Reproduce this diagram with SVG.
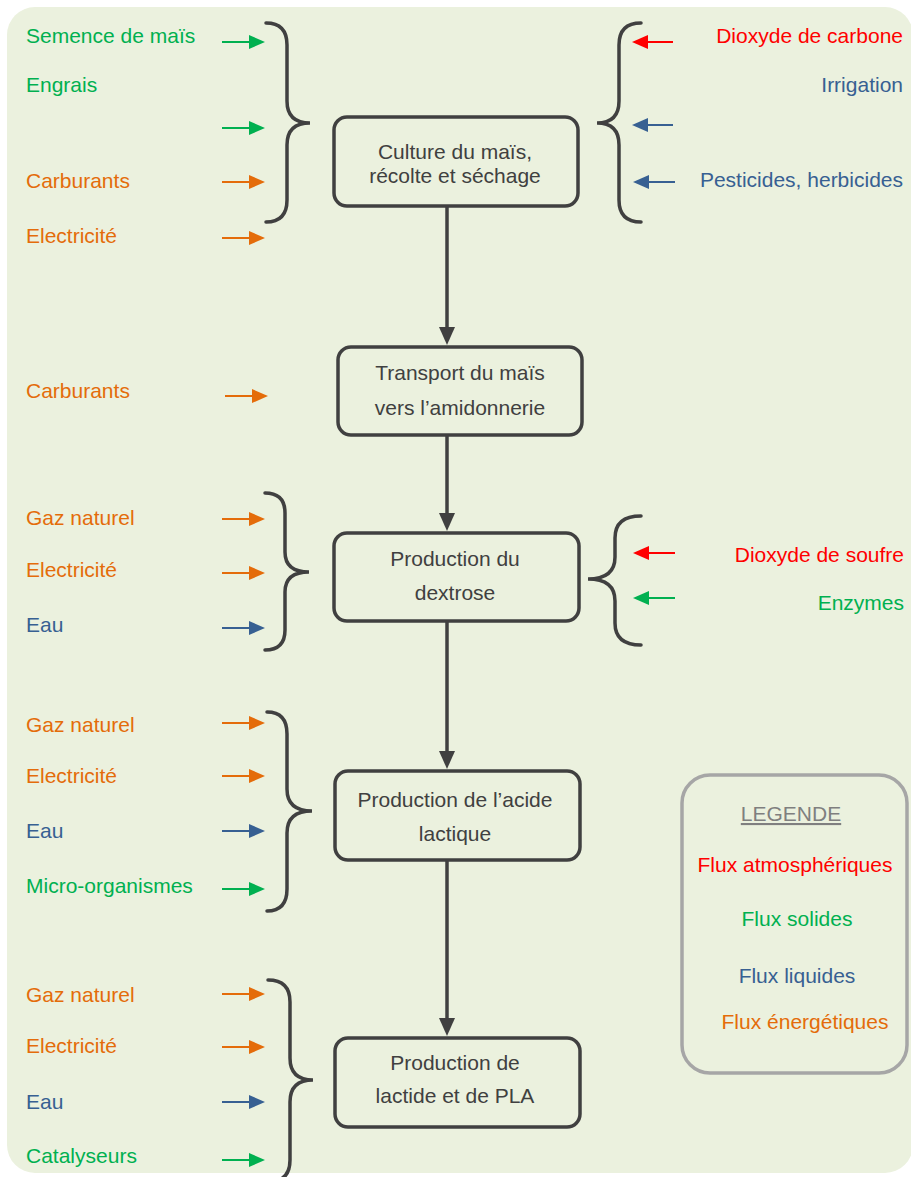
<svg xmlns="http://www.w3.org/2000/svg" width="911" height="1177" viewBox="0 0 911 1177">
<style>
text{font-family:"Liberation Sans",Arial,sans-serif;font-size:21px}
.g{fill:#00B050}.o{fill:#E46C0A}.b{fill:#376092}.r{fill:#FF0000}
.bt{fill:#404040;text-anchor:middle}
.e{text-anchor:end}
.box{fill:none;stroke:#404040;stroke-width:3.5}
.brace{fill:none;stroke:#404040;stroke-width:3.5;stroke-linecap:round}
.ag{stroke:#00B050;stroke-width:2;marker-end:url(#mg)}
.ao{stroke:#E46C0A;stroke-width:2;marker-end:url(#mo)}
.ab{stroke:#376092;stroke-width:2;marker-end:url(#mb)}
.ar{stroke:#FF0000;stroke-width:2;marker-end:url(#mr)}
.ak{stroke:#404040;stroke-width:3.5;marker-end:url(#mk)}
</style>
<defs>
<marker id="mg" viewBox="0 0 16 14" refX="8" refY="7" markerWidth="16" markerHeight="14" orient="auto" markerUnits="userSpaceOnUse"><path d="M0,0L16,7L0,14z" fill="#00B050"/></marker>
<marker id="mo" viewBox="0 0 16 14" refX="8" refY="7" markerWidth="16" markerHeight="14" orient="auto" markerUnits="userSpaceOnUse"><path d="M0,0L16,7L0,14z" fill="#E46C0A"/></marker>
<marker id="mb" viewBox="0 0 16 14" refX="8" refY="7" markerWidth="16" markerHeight="14" orient="auto" markerUnits="userSpaceOnUse"><path d="M0,0L16,7L0,14z" fill="#376092"/></marker>
<marker id="mr" viewBox="0 0 16 14" refX="8" refY="7" markerWidth="16" markerHeight="14" orient="auto" markerUnits="userSpaceOnUse"><path d="M0,0L16,7L0,14z" fill="#FF0000"/></marker>
<marker id="mk" viewBox="0 0 18 16" refX="9" refY="8" markerWidth="18" markerHeight="16" orient="auto" markerUnits="userSpaceOnUse"><path d="M0,0L18,8L0,16z" fill="#404040"/></marker>
</defs>
<rect x="7" y="7" width="906" height="1166" rx="28" fill="#EBF1DE"/>

<g id="connectors">
<line class="ak" x1="447" y1="206" x2="447" y2="336"/>
<line class="ak" x1="447" y1="436" x2="447" y2="522"/>
<line class="ak" x1="447" y1="621" x2="447" y2="760"/>
<line class="ak" x1="447" y1="860" x2="447" y2="1027"/>
</g>

<g id="culture">
<rect class="box" x="334" y="117" width="244" height="89" rx="13"/>
<text class="bt" x="455" y="159">Culture du maïs,</text>
<text class="bt" x="455" y="183">récolte et séchage</text>
</g>
<g id="transport">
<rect class="box" x="338" y="347" width="244" height="88" rx="13"/>
<text class="bt" x="460" y="380">Transport du maïs</text>
<text class="bt" x="460" y="415">vers l’amidonnerie</text>
</g>
<g id="dextrose">
<rect class="box" x="334" y="533" width="245" height="88" rx="13"/>
<text class="bt" x="455" y="566">Production du</text>
<text class="bt" x="455" y="600">dextrose</text>
</g>
<g id="acide">
<rect class="box" x="335" y="771" width="245" height="89" rx="13"/>
<text class="bt" x="455" y="807">Production de l’acide</text>
<text class="bt" x="455" y="841">lactique</text>
</g>
<g id="pla">
<rect class="box" x="335" y="1038" width="245" height="89" rx="13"/>
<text class="bt" x="455" y="1070">Production de</text>
<text class="bt" x="455" y="1103">lactide et de PLA</text>
</g>

<g id="inputs-culture">
<path class="brace" d="M266,23Q287,23 287,45L287,101Q287,123 310,123Q287,123 287,145L287,200Q287,222 266,222"/>
<text class="g" x="26" y="43">Semence de maïs</text>
<line class="ag" x1="222" y1="42" x2="257" y2="42"/>
<text class="g" x="26" y="92">Engrais</text>
<line class="ag" x1="222" y1="128" x2="257" y2="128"/>
<text class="o" x="26" y="188">Carburants</text>
<line class="ao" x1="222" y1="182" x2="257" y2="182"/>
<text class="o" x="26" y="243">Electricité</text>
<line class="ao" x1="222" y1="238" x2="257" y2="238"/>
<path class="brace" d="M641,23Q619,23 619,45L619,101Q619,123 597,123Q619,123 619,145L619,200Q619,222 641,222"/>
<line class="ar" x1="673" y1="42" x2="640" y2="42"/>
<text class="r e" x="903" y="43">Dioxyde de carbone</text>
<text class="b e" x="903" y="92">Irrigation</text>
<line class="ab" x1="673" y1="125" x2="640" y2="125"/>
<line class="ab" x1="675" y1="182" x2="641" y2="182"/>
<text class="b e" x="903" y="187">Pesticides, herbicides</text>
</g>

<g id="inputs-transport">
<text class="o" x="26" y="398">Carburants</text>
<line class="ao" x1="225" y1="396" x2="260" y2="396"/>
</g>

<g id="inputs-dextrose">
<path class="brace" d="M265,493Q285,493 285,513L285,552Q285,572 309,572Q285,572 285,592L285,630Q285,650 265,650"/>
<text class="o" x="26" y="525">Gaz naturel</text>
<line class="ao" x1="222" y1="519" x2="257" y2="519"/>
<text class="o" x="26" y="577">Electricité</text>
<line class="ao" x1="222" y1="573" x2="257" y2="573"/>
<text class="b" x="26" y="632">Eau</text>
<line class="ab" x1="222" y1="628" x2="257" y2="628"/>
<path class="brace" d="M641,516Q615,516 615,538L615,557Q615,579 588,579Q615,579 615,601L615,623Q615,645 641,645"/>
<line class="ar" x1="675" y1="553" x2="641" y2="553"/>
<text class="r e" x="904" y="562">Dioxyde de soufre</text>
<line class="ag" x1="675" y1="598" x2="641" y2="598"/>
<text class="g e" x="904" y="610">Enzymes</text>
</g>

<g id="inputs-acide">
<path class="brace" d="M267,712Q287,712 287,734L287,789Q287,811 312,811Q287,811 287,833L287,889Q287,911 267,911"/>
<text class="o" x="26" y="732">Gaz naturel</text>
<line class="ao" x1="222" y1="723" x2="257" y2="723"/>
<text class="o" x="26" y="783">Electricité</text>
<line class="ao" x1="222" y1="776" x2="257" y2="776"/>
<text class="b" x="26" y="838">Eau</text>
<line class="ab" x1="222" y1="831" x2="257" y2="831"/>
<text class="g" x="26" y="893">Micro-organismes</text>
<line class="ag" x1="222" y1="889" x2="257" y2="889"/>
</g>

<g id="inputs-pla">
<path class="brace" d="M268,980Q290,980 290,1002L290,1058Q290,1080 313,1080Q290,1080 290,1102L290,1160Q290,1182 268,1182"/>
<text class="o" x="26" y="1002">Gaz naturel</text>
<line class="ao" x1="222" y1="994" x2="257" y2="994"/>
<text class="o" x="26" y="1053">Electricité</text>
<line class="ao" x1="222" y1="1047" x2="257" y2="1047"/>
<text class="b" x="26" y="1109">Eau</text>
<line class="ab" x1="222" y1="1102" x2="257" y2="1102"/>
<text class="g" x="26" y="1163">Catalyseurs</text>
<line class="ag" x1="222" y1="1160" x2="257" y2="1160"/>
</g>

<g id="legende">
<rect x="682" y="775" width="225" height="298" rx="28" fill="none" stroke="#A6A6A6" stroke-width="3.5"/>
<text x="791" y="821" text-anchor="middle" fill="#7F7F7F" text-decoration="underline">LEGENDE</text>
<text class="r" x="795" y="872" text-anchor="middle">Flux atmosphériques</text>
<text class="g" x="797" y="926" text-anchor="middle">Flux solides</text>
<text class="b" x="797" y="983" text-anchor="middle">Flux liquides</text>
<text class="o" x="805" y="1029" text-anchor="middle">Flux énergétiques</text>
</g>
</svg>
